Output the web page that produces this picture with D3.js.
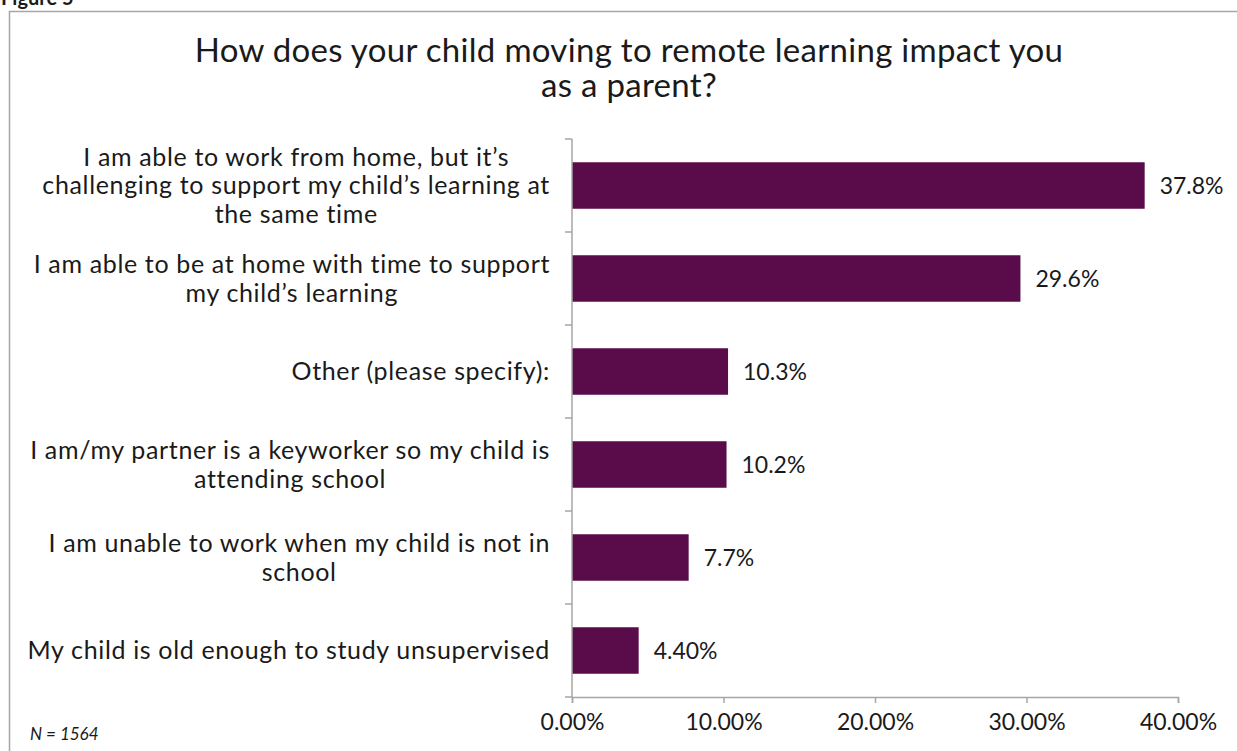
<!DOCTYPE html>
<html>
<head>
<meta charset="utf-8">
<script src="https://cdn.jsdelivr.net/npm/d3@7"></script>
<style>
  html, body { margin: 0; padding: 0; background: #fff; }
  svg { display: block; }
  text { font-family: Lato, "Open Sans", sans-serif; fill: #1a1a1a; }
</style>
</head>
<body>
<svg id="chart" width="1237" height="751"></svg>
<script>
const categories = [
  "I am able to work from home, but it\u2019s|challenging to support my child\u2019s learning at|the same time",
  "I am able to be at home with time to support|my child\u2019s learning",
  "Other (please specify):",
  "I am/my partner is a keyworker so my child is|attending school",
  "I am unable to work when my child is not in|school",
  "My child is old enough to study unsupervised"
];
const values = [37.8, 29.6, 10.3, 10.2, 7.7, 4.4];
const valueLabels = ["37.8%", "29.6%", "10.3%", "10.2%", "7.7%", "4.40%"];
const xTicks = [0, 10, 20, 30, 40];
const titleLines = ["How does your child moving to remote learning impact you", "as a parent?"];
const figureLabel = "Figure 5";
const noteText = "N = 1564";

const svg = d3.select("#chart");
const barColor = "#590b4a";
const axisColor = "#a6a6a6";

// frame
svg.append("rect").attr("x", 9.5).attr("y", 11.5).attr("width", 1300).attr("height", 800)
  .attr("fill", "none").attr("stroke", axisColor).attr("stroke-width", 1.5);

svg.append("text").attr("x", 1).attr("y", 5).attr("font-size", 20).attr("font-weight", "bold")
  .text(figureLabel);

// title
svg.append("g").selectAll("text").data(titleLines).join("text")
  .attr("x", 629).attr("y", (d, i) => 62 + i * 35)
  .attr("text-anchor", "middle").attr("font-size", 33).attr("letter-spacing", 0.3)
  .text(d => d);

const x = d3.scaleLinear().domain([0, 40]).range([572, 1178]);
const y = d3.scaleBand().domain(d3.range(categories.length)).range([139, 697])
  .paddingInner(0.5).paddingOuter(0.25);

// bars
svg.append("g").selectAll("rect").data(values).join("rect")
  .attr("x", x(0)).attr("y", (d, i) => y(i))
  .attr("width", d => x(d) - x(0)).attr("height", y.bandwidth())
  .attr("fill", barColor);

// value labels
svg.append("g").selectAll("text").data(values).join("text")
  .attr("x", d => x(d) + 15).attr("y", (d, i) => y(i) + y.bandwidth() / 2)
  .attr("dy", "0.35em").attr("font-size", 23)
  .text((d, i) => valueLabels[i]);

// x axis
const xAxis = d3.axisBottom(x).tickValues(xTicks).tickSize(6).tickPadding(11)
  .tickFormat(d => d.toFixed(2) + "%");
const gx = svg.append("g").attr("transform", "translate(0,697)").call(xAxis);
gx.select(".domain").attr("stroke", axisColor).attr("stroke-width", 1.5);
gx.selectAll(".tick line").attr("stroke", axisColor).attr("stroke-width", 1.5);
gx.selectAll(".tick text").attr("font-size", 23).attr("font-family", "Lato, sans-serif").attr("fill", "#1a1a1a");

// y axis line + ticks at band boundaries
const step = y.step();
const yStart = y.range()[0];
svg.append("line").attr("x1", 572).attr("x2", 572).attr("y1", yStart).attr("y2", 697)
  .attr("stroke", axisColor).attr("stroke-width", 1.5);
svg.append("g").selectAll("line").data(d3.range(categories.length + 1)).join("line")
  .attr("x1", 565).attr("x2", 572)
  .attr("y1", i => yStart + i * step).attr("y2", i => yStart + i * step)
  .attr("stroke", axisColor).attr("stroke-width", 1.5);

// category labels
const labelRight = 550;
const lineH = 28.5;
const lg = svg.append("g");
categories.forEach((c, i) => {
  const lines = c.split("|");
  const g = lg.append("g");
  const texts = g.selectAll("text").data(lines).join("text")
    .attr("font-size", 25).attr("letter-spacing", 0.65).attr("text-anchor", "middle")
    .attr("y", (d, j) => y(i) + y.bandwidth() / 2 + (j - (lines.length - 1) / 2) * lineH)
    .attr("dy", "0.35em")
    .text(d => d);
  let maxW = 0;
  texts.each(function () { maxW = Math.max(maxW, this.getComputedTextLength()); });
  texts.attr("x", labelRight - maxW / 2);
});

// note
svg.append("text").attr("x", 30).attr("y", 740).attr("font-size", 17).attr("font-style", "italic")
  .text(noteText);
</script>
</body>
</html>
